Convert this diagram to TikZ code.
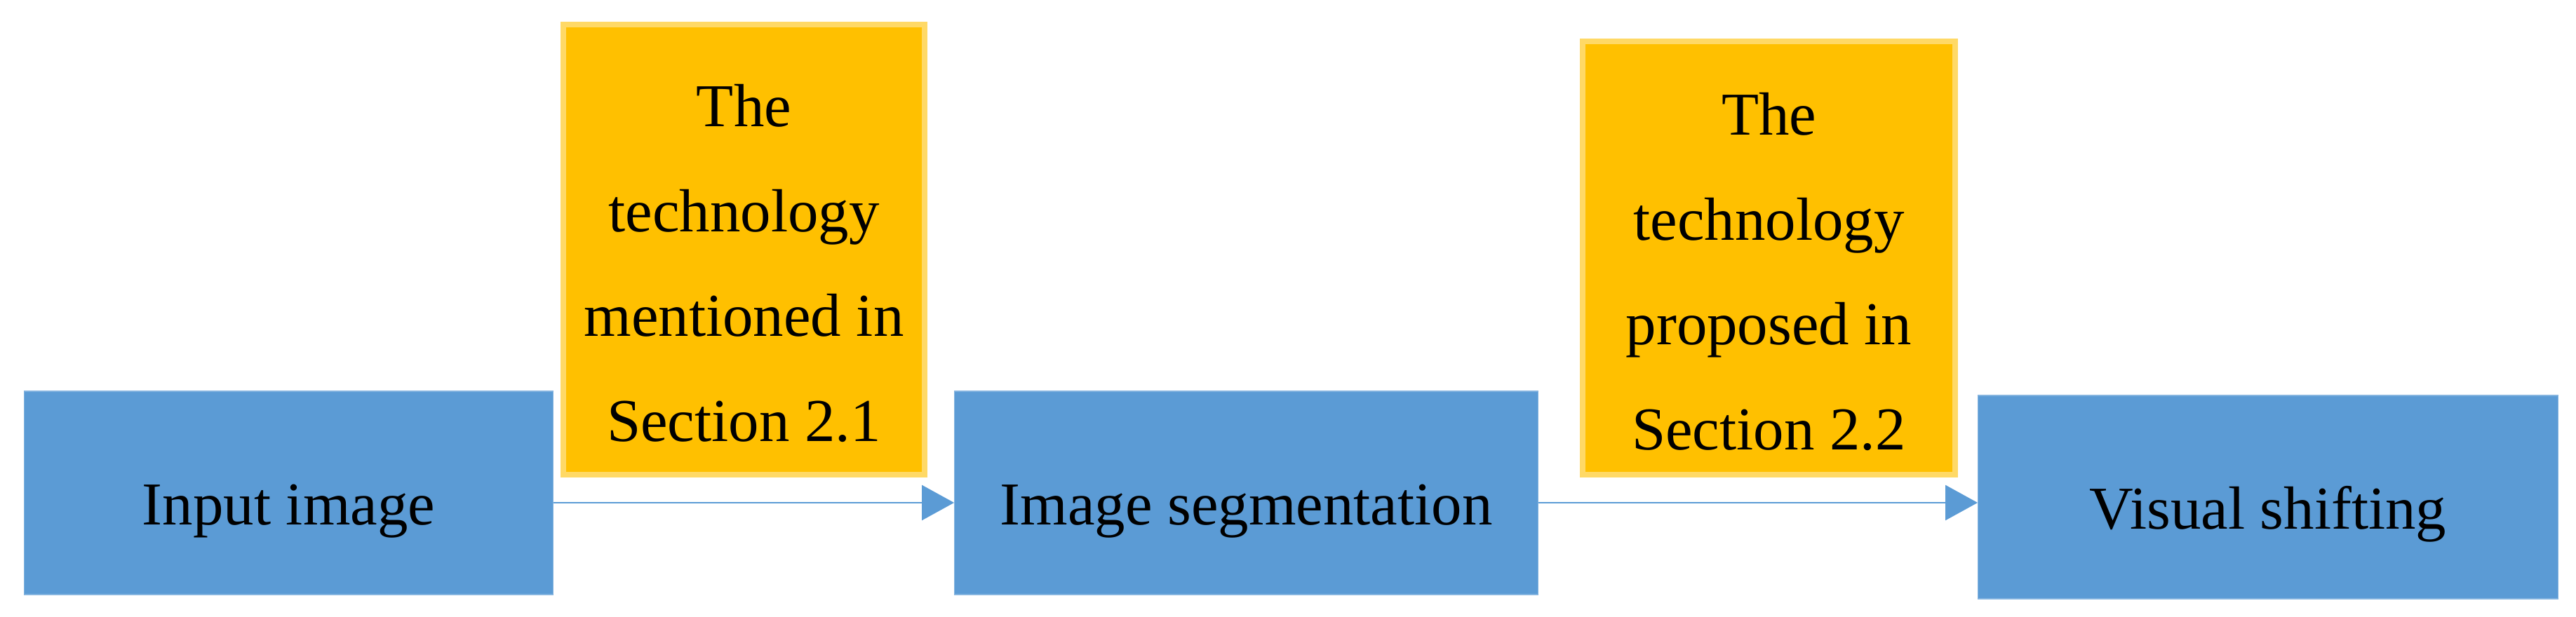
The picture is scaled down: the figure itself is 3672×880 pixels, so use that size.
\documentclass[tikz,border=0pt]{standalone}
\usepackage{fontspec}
\setmainfont{Liberation Serif}
\usetikzlibrary{arrows.meta}
\definecolor{stageblue}{HTML}{5B9BD5}
\definecolor{techfill}{HTML}{FFC000}
\definecolor{techedge}{HTML}{FFD966}
\newcommand{\toplift}{\rule{0pt}{28.3pt}}
\begin{document}
\begin{tikzpicture}[x=0.01cm,y=0.01cm,
  stage/.style={fill=stageblue, draw=stageblue!75!white, line width=0.4pt,
    minimum height=2.9cm, inner sep=0pt, text height=26pt, text depth=0pt,
    font=\fontsize{24.7}{42.5}\selectfont},
  tech/.style={fill=techfill, draw=techedge, line width=0.08cm, inner sep=0pt,
    align=center, font=\fontsize{24.7}{42.5}\selectfont},
  flow/.style={draw=stageblue, line width=0.025cm, -{Triangle[length=0.46cm,width=0.5cm]}}]
  \useasboundingbox (0,0) rectangle (3672,880);
  % pipeline stages
  \node[stage, minimum width=7.53cm] (input) at (411.5,177) {Input image};
  \node[stage, minimum width=8.31cm] (seg) at (1776.5,177) {Image segmentation};
  \node[stage, minimum width=8.26cm] (shift) at (3233,171) {Visual shifting};
  % techniques used
  \node[tech, minimum width=5.15cm, minimum height=6.42cm] (tech1) at (1060.5,524)
    {\toplift The\\technology\\mentioned in\\Section 2.1};
  \node[tech, minimum width=5.31cm, minimum height=6.18cm] (tech2) at (2521.5,512)
    {\toplift The\\technology\\proposed in\\Section 2.2};
  \coordinate (lvl) at (0,163);
  \draw[flow] (input.east |- lvl) -- (seg.west |- lvl);
  \draw[flow] (seg.east |- lvl) -- (shift.west |- lvl);
\end{tikzpicture}
\end{document}
